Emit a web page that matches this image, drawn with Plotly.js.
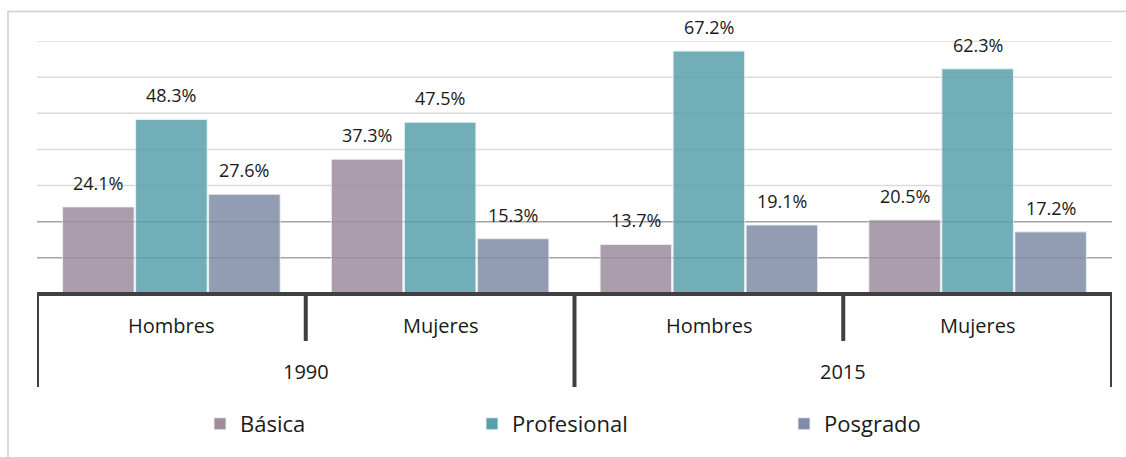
<!DOCTYPE html>
<html>
<head>
<meta charset="utf-8">
<script src="https://cdn.plot.ly/plotly-3.0.1.min.js"></script>
<style>
  html, body { margin: 0; padding: 0; background: #ffffff; }
  #chart { width: 1126px; height: 457px; }
</style>
</head>
<body>
<div id="chart"></div>
<script>
// Category labels (inner level: sex, outer level: year)
const groups = ['Hombres', 'Mujeres', 'Hombres', 'Mujeres'];
const years = ['1990', '2015'];

// Series, in percent
const seriesNames = ['Básica', 'Profesional', 'Posgrado'];
const basica = [24.1, 37.3, 13.7, 20.5];
const profesional = [48.3, 47.5, 67.2, 62.3];
const posgrado = [27.6, 15.3, 19.1, 17.2];

// Horizontal guide lines (percent)
const gridValues = [10, 20, 30, 40, 50, 60, 70];

const seriesValues = [basica, profesional, posgrado];
const colors = ['#9e8c9e', '#59a0ab', '#808da8'];

// Plot frame in pixels (used to place the category axis decorations)
const W = 1126, H = 457;
const M = { l: 37, r: 14, t: 41, b: 163, autoexpand: false };
const plotH = H - M.t - M.b;
const plotW = W - M.l - M.r;
const py = p => (H - M.b - p) / plotH;   // pixel row -> paper y
const px = p => (p - M.l) / plotW;        // pixel column -> paper x

const BARGAP = 0.185, GROUPGAP = 0.02;
const slot = (1 - BARGAP) / seriesNames.length;
const xs = groups.map((_, i) => i);

// Each series gets its own legend box so the entries can be spread out
const legendIds = ['legend', 'legend2', 'legend3'];
const legendLeft = [200, 472, 784];

const traces = seriesValues.map((vals, k) => ({
  type: 'bar',
  name: seriesNames[k],
  legend: legendIds[k],
  x: xs,
  y: vals,
  marker: { color: colors[k], opacity: 0.85, line: { color: 'rgba(235,240,242,0.9)', width: 1 } },
  hoverinfo: 'skip'
}));

const font = 'Open Sans, sans-serif';
const annotations = [];

// Value labels above each bar
seriesValues.forEach((vals, k) => {
  vals.forEach((v, i) => {
    annotations.push({
      x: i + (k - 1) * slot, y: v, xref: 'x', yref: 'y',
      text: v.toFixed(1) + '%', showarrow: false,
      yanchor: 'middle', yshift: 24,
      font: { family: font, size: 18, color: '#1a1a1a' }
    });
  });
});

// Inner category labels
groups.forEach((g, i) => {
  annotations.push({
    x: i, y: py(325), xref: 'x', yref: 'paper', text: g, showarrow: false,
    yanchor: 'middle', font: { family: font, size: 20, color: '#1a1a1a' }
  });
});
// Outer category labels (years span two categories)
years.forEach((yr, j) => {
  annotations.push({
    x: 2 * j + 0.5, y: py(371), xref: 'x', yref: 'paper', text: yr, showarrow: false,
    yanchor: 'middle', font: { family: font, size: 20, color: '#1a1a1a' }
  });
});

const axisColor = '#404040';
const shapes = [];
// Guide lines under the bars; the two lowest are a darker grey
gridValues.forEach(v => shapes.push({
  type: 'line', xref: 'paper', yref: 'y', x0: 0, x1: 1, y0: v, y1: v,
  line: { color: v <= 20 ? '#a3a3a3' : '#dadada', width: 1.5 }, layer: 'below'
}));
// Category axis line
shapes.push({
  type: 'line', xref: 'x', yref: 'paper', x0: -0.5, x1: groups.length - 0.5, y0: py(294), y1: py(294),
  line: { color: axisColor, width: 4 }
});
// Dividers: short ones between sexes, long ones between years
for (let i = 0; i <= groups.length; i++) {
  const long = i % 2 === 0;
  shapes.push({
    type: 'line', xref: 'x', yref: 'paper', x0: i - 0.5, x1: i - 0.5,
    y0: py(292), y1: py(long ? 387 : 341),
    line: { color: axisColor, width: 4 }
  });
}
// Chart border
shapes.push({
  type: 'rect', xref: 'paper', yref: 'paper',
  x0: px(8), x1: px(1132), y0: py(11.5), y1: py(470),
  line: { color: '#cfcfcf', width: 1.5 }, layer: 'below'
});

const legendBase = {
  orientation: 'h',
  xanchor: 'left',
  y: py(424), yanchor: 'middle',
  font: { family: font, size: 22, color: '#1a1a1a' },
  bgcolor: 'rgba(0,0,0,0)',
  borderwidth: 0
};

const layout = {
  width: W, height: H,
  margin: M,
  paper_bgcolor: '#ffffff',
  plot_bgcolor: 'rgba(0,0,0,0)',
  barmode: 'group',
  bargap: BARGAP,
  bargroupgap: GROUPGAP,
  showlegend: true,
  xaxis: {
    range: [-0.5, groups.length - 0.5],
    showticklabels: false, ticks: '', showgrid: false, zeroline: false, showline: false,
    fixedrange: true
  },
  yaxis: {
    range: [0, 70],
    showticklabels: false, ticks: '',
    showgrid: false, zeroline: false, showline: false, fixedrange: true
  },
  annotations: annotations,
  shapes: shapes
};
legendIds.forEach((id, k) => {
  layout[id] = Object.assign({}, legendBase, { x: px(legendLeft[k]) });
});

Plotly.newPlot('chart', traces, layout, { displayModeBar: false, staticPlot: true });
</script>
</body>
</html>
